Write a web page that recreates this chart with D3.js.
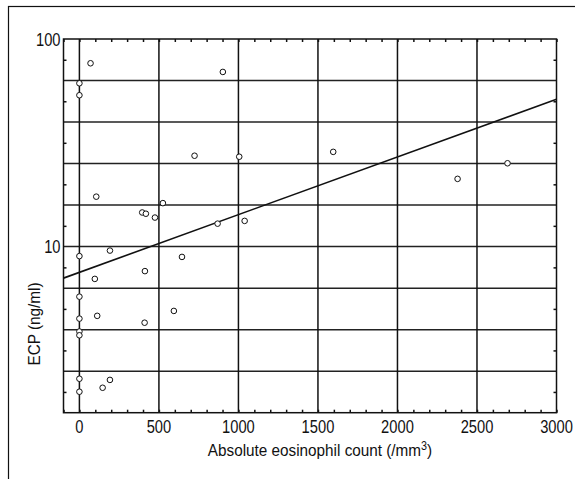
<!DOCTYPE html>
<html>
<head>
<meta charset="utf-8">
<script src="https://cdn.jsdelivr.net/npm/d3@7/dist/d3.min.js"></script>
<style>
  body { margin: 0; background: #fff; }
  text { font-family: "Liberation Sans", Arial, sans-serif; fill: #111; }
</style>
</head>
<body>
<div id="chart"></div>
<script>
"use strict";

// eosinophil count (/mm3) and ECP (ng/ml)
var eosinophils = [70, 0, 0, 902, 724, 1005, 1596, 2692, 2378, 106, 525, 395, 418, 475, 869, 1039,
  0, 192, 645, 412, 97, 0, 112, 594, 0, 410, 0, 0, 0, 0, 146, 192];
var ecp = [76.4, 61.2, 53.6, 69.4, 27.4, 27.1, 28.6, 25.2, 21.2, 17.4, 16.2, 14.6, 14.4, 13.8, 12.9, 13.3,
  9.0, 9.57, 8.92, 7.62, 6.99, 5.74, 4.64, 4.90, 4.50, 4.30, 3.90, 3.74, 2.31, 2.00, 2.09, 2.28];

// fitted line: log10(ECP) = fitA + fitB * count
var fitA = 0.876, fitB = 0.000278;

var xTicks = [0, 500, 1000, 1500, 2000, 2500, 3000];
var yLabels = [10, 100];

var width = 575, height = 479;
var plot = {left: 63.5, right: 556.5, top: 39, bottom: 412.7};
var narrow = 0.84; // the original uses a condensed face

var svg = d3.select("#chart")
  .append("svg")
    .attr("width", width)
    .attr("height", height);

// outer frame
svg.append("rect")
  .attr("x", 8.5).attr("y", 6.5)
  .attr("width", width).attr("height", height)
  .attr("fill", "none").attr("stroke", "#111").attr("stroke-width", 1.2);

var x = d3.scaleLinear().domain([-100, 3000]).range([plot.left, plot.right]);
var y = d3.scaleLog().domain([Math.pow(10, 0.2), 100]).range([plot.bottom, plot.top]);

// grid lines at every 0.2 decade and every 500
var yGrid = d3.range(1, 10).map(function(k) { return Math.pow(10, 0.2 * k + 0.2); });
var yMinor = d3.range(0, 9).map(function(k) { return Math.pow(10, 0.2 * k + 0.3); });
var xMinor = d3.range(-100, 3001, 100);

var g = svg.append("g");

g.selectAll(".hgrid")
  .data(yGrid.filter(function(v) { return v < 99; }))
  .enter().append("line")
    .attr("x1", plot.left).attr("x2", plot.right)
    .attr("y1", function(d) { return y(d); })
    .attr("y2", function(d) { return y(d); })
    .attr("stroke", "#222").attr("stroke-width", 1.5);

g.selectAll(".vgrid")
  .data(xTicks.filter(function(v) { return v < 3000; }))
  .enter().append("line")
    .attr("x1", function(d) { return x(d); })
    .attr("x2", function(d) { return x(d); })
    .attr("y1", plot.top).attr("y2", plot.bottom)
    .attr("stroke", "#111").attr("stroke-width", 1.5);

// inward minor ticks
var axTop = d3.axisBottom(x).tickValues(xMinor).tickSize(3).tickFormat("");
var axBot = d3.axisTop(x).tickValues(xMinor).tickSize(3).tickFormat("");
var axL = d3.axisRight(y).tickValues(yMinor).tickSize(3).tickFormat("");
var axR = d3.axisLeft(y).tickValues(yMinor).tickSize(3).tickFormat("");

[[axTop, "translate(0," + plot.top + ")"],
 [axBot, "translate(0," + plot.bottom + ")"],
 [axL, "translate(" + plot.left + ",0)"],
 [axR, "translate(" + plot.right + ",0)"]].forEach(function(a) {
  var s = g.append("g").attr("transform", a[1]).call(a[0]);
  s.select(".domain").remove();
  s.selectAll("line").attr("stroke", "#111").attr("stroke-width", 1.5);
});

// plot frame
g.append("rect")
  .attr("x", plot.left).attr("y", plot.top)
  .attr("width", plot.right - plot.left).attr("height", plot.bottom - plot.top)
  .attr("fill", "none").attr("stroke", "#111").attr("stroke-width", 1.5);

// tick labels
g.selectAll(".xlab")
  .data(xTicks)
  .enter().append("text")
    .attr("transform", function(d) {
      return "translate(" + x(d) + "," + (plot.bottom + 20) + ") scale(" + narrow + ",1)";
    })
    .attr("text-anchor", "middle")
    .style("font-size", "17.5px")
    .text(function(d) { return d; });

g.selectAll(".ylab")
  .data(yLabels)
  .enter().append("text")
    .attr("transform", function(d) {
      return "translate(" + (plot.left - 3) + "," + (y(d) + 6.5) + ") scale(" + narrow + ",1)";
    })
    .attr("text-anchor", "end")
    .style("font-size", "17.5px")
    .text(function(d) { return d; });

// axis titles
var xt = svg.append("text")
  .attr("transform", "translate(320,456) scale(0.9,1)")
  .attr("text-anchor", "middle")
  .style("font-size", "17px")
  .text("Absolute eosinophil count (/mm");
xt.append("tspan").attr("dy", -6).style("font-size", "12px").text("3");
xt.append("tspan").attr("dy", 6).text(")");

svg.append("text")
  .attr("transform", "translate(39.5,324) rotate(-90) scale(0.9,1)")
  .attr("text-anchor", "middle")
  .style("font-size", "17px")
  .text("ECP (ng/ml)");

// regression line
var fitX = [-100, 3000];
g.append("path")
  .datum(fitX)
  .attr("fill", "none").attr("stroke", "#111").attr("stroke-width", 1.6)
  .attr("d", d3.line()
    .x(function(d) { return x(d); })
    .y(function(d) { return y(Math.pow(10, fitA + fitB * d)); }));

// points
g.selectAll(".pt")
  .data(d3.range(eosinophils.length))
  .enter().append("circle")
    .attr("cx", function(i) { return x(eosinophils[i]); })
    .attr("cy", function(i) { return y(ecp[i]); })
    .attr("r", 2.8)
    .attr("fill", "#fff").attr("stroke", "#111").attr("stroke-width", 1);
</script>
</body>
</html>
